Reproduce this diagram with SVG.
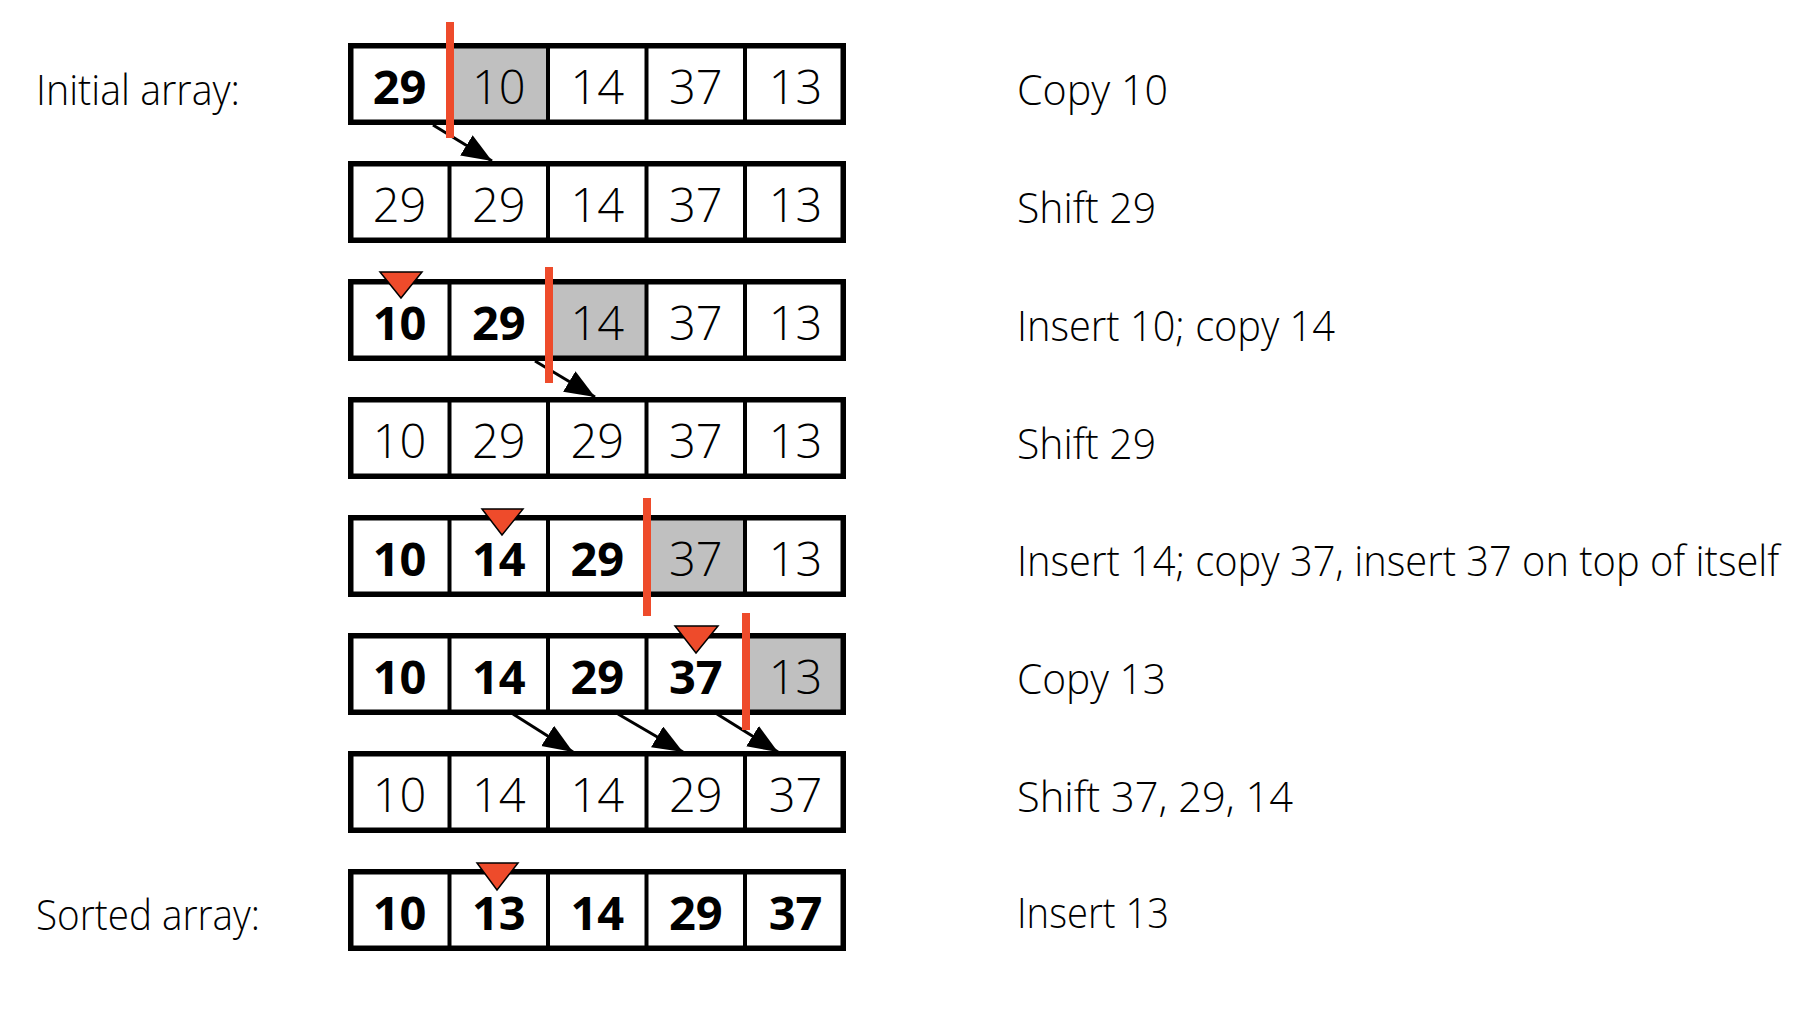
<svg xmlns="http://www.w3.org/2000/svg" width="1814" height="1022" viewBox="0 0 1814 1022">
<style>
  .box{fill:none;stroke:#000;stroke-width:5.5}
  .div{stroke:#000;stroke-width:4}
  .gray{fill:#c0c0c0}
  .num{font-family:"Open Sans","Noto Sans","Liberation Sans",sans-serif;font-size:47px;font-weight:300;text-anchor:middle;fill:#000}
  .b{font-weight:bold}
  .lbl{font-family:"Open Sans","Noto Sans","Liberation Sans",sans-serif;font-size:43px;font-weight:300;fill:#000}
  .bar{fill:#ee4b2b}
  .tri{fill:#ee4b2b;stroke:#000;stroke-width:1.5;stroke-linejoin:miter}
  .arr{stroke:#000;stroke-width:3;fill:none}
</style>
<defs>
  <marker id="ah" markerUnits="userSpaceOnUse" markerWidth="32" markerHeight="26" refX="30" refY="12" orient="auto">
    <path d="M0,0 L30,12 L0,24 z" fill="#000"/>
  </marker>
  <g id="row">
    <rect x="350.75" y="2.75" width="492.5" height="76.5" class="box"/>
    <line x1="449.5" y1="2.75" x2="449.5" y2="79.25" class="div"/>
    <line x1="548" y1="2.75" x2="548" y2="79.25" class="div"/>
    <line x1="646.5" y1="2.75" x2="646.5" y2="79.25" class="div"/>
    <line x1="745" y1="2.75" x2="745" y2="79.25" class="div"/>
  </g>
</defs>
<rect width="1814" height="1022" fill="#fff"/>

<g id="labels">
  <text class="lbl" x="36" y="105" textLength="204" lengthAdjust="spacingAndGlyphs">Initial array:</text>
  <text class="lbl" x="36" y="930" textLength="224" lengthAdjust="spacingAndGlyphs">Sorted array:</text>
  <text class="lbl" x="1017" y="105" textLength="151" lengthAdjust="spacingAndGlyphs">Copy 10</text>
  <text class="lbl" x="1017" y="223" textLength="139" lengthAdjust="spacingAndGlyphs">Shift 29</text>
  <text class="lbl" x="1017" y="341" textLength="318" lengthAdjust="spacingAndGlyphs">Insert 10; copy 14</text>
  <text class="lbl" x="1017" y="459" textLength="139" lengthAdjust="spacingAndGlyphs">Shift 29</text>
  <text class="lbl" transform="translate(1017,576) scale(0.9,1)" x="0" y="0" textLength="847" lengthAdjust="spacingAndGlyphs">Insert 14; copy 37, insert 37 on top of itself</text>
  <text class="lbl" x="1017" y="694" textLength="149" lengthAdjust="spacingAndGlyphs">Copy 13</text>
  <text class="lbl" x="1017" y="812" textLength="276" lengthAdjust="spacingAndGlyphs">Shift 37, 29, 14</text>
  <text class="lbl" x="1017" y="928" textLength="152" lengthAdjust="spacingAndGlyphs">Insert 13</text>
</g>

<g id="connectors">
  <line class="arr" x1="433" y1="125" x2="492" y2="161" marker-end="url(#ah)"/>
  <line class="arr" x1="535" y1="361" x2="595" y2="397" marker-end="url(#ah)"/>
  <line class="arr" x1="513" y1="714" x2="573" y2="752" marker-end="url(#ah)"/>
  <line class="arr" x1="618" y1="714" x2="683" y2="752" marker-end="url(#ah)"/>
  <line class="arr" x1="717" y1="714" x2="778" y2="752" marker-end="url(#ah)"/>
</g>

<g id="row1" transform="translate(0,43)">
  <rect class="gray" x="449.5" y="2.75" width="98.5" height="76.5"/>
  <use href="#row"/>
  <text class="num b" x="399.5" y="60.5">29</text>
  <text class="num" x="498.8" y="60.5">10</text>
  <text class="num" x="597.3" y="60.5">14</text>
  <text class="num" x="695.8" y="60.5">37</text>
  <text class="num" x="795.5" y="60.5">13</text>
</g>
<g id="row2" transform="translate(0,161)">
  <use href="#row"/>
  <text class="num" x="399.5" y="60.5">29</text>
  <text class="num" x="498.8" y="60.5">29</text>
  <text class="num" x="597.3" y="60.5">14</text>
  <text class="num" x="695.8" y="60.5">37</text>
  <text class="num" x="795.5" y="60.5">13</text>
</g>
<g id="row3" transform="translate(0,279)">
  <rect class="gray" x="548" y="2.75" width="98.5" height="76.5"/>
  <use href="#row"/>
  <text class="num b" x="399.5" y="60.5">10</text>
  <text class="num b" x="498.8" y="60.5">29</text>
  <text class="num" x="597.3" y="60.5">14</text>
  <text class="num" x="695.8" y="60.5">37</text>
  <text class="num" x="795.5" y="60.5">13</text>
</g>
<g id="row4" transform="translate(0,397)">
  <use href="#row"/>
  <text class="num" x="399.5" y="60.5">10</text>
  <text class="num" x="498.8" y="60.5">29</text>
  <text class="num" x="597.3" y="60.5">29</text>
  <text class="num" x="695.8" y="60.5">37</text>
  <text class="num" x="795.5" y="60.5">13</text>
</g>
<g id="row5" transform="translate(0,515)">
  <rect class="gray" x="646.5" y="2.75" width="98.5" height="76.5"/>
  <use href="#row"/>
  <text class="num b" x="399.5" y="60.5">10</text>
  <text class="num b" x="498.8" y="60.5">14</text>
  <text class="num b" x="597.3" y="60.5">29</text>
  <text class="num" x="695.8" y="60.5">37</text>
  <text class="num" x="795.5" y="60.5">13</text>
</g>
<g id="row6" transform="translate(0,633)">
  <rect class="gray" x="745" y="2.75" width="98" height="76.5"/>
  <use href="#row"/>
  <text class="num b" x="399.5" y="60.5">10</text>
  <text class="num b" x="498.8" y="60.5">14</text>
  <text class="num b" x="597.3" y="60.5">29</text>
  <text class="num b" x="695.8" y="60.5">37</text>
  <text class="num" x="795.5" y="60.5">13</text>
</g>
<g id="row7" transform="translate(0,751)">
  <use href="#row"/>
  <text class="num" x="399.5" y="60.5">10</text>
  <text class="num" x="498.8" y="60.5">14</text>
  <text class="num" x="597.3" y="60.5">14</text>
  <text class="num" x="695.8" y="60.5">29</text>
  <text class="num" x="795.5" y="60.5">37</text>
</g>
<g id="row8" transform="translate(0,869)">
  <use href="#row"/>
  <text class="num b" x="399.5" y="60.5">10</text>
  <text class="num b" x="498.8" y="60.5">13</text>
  <text class="num b" x="597.3" y="60.5">14</text>
  <text class="num b" x="695.8" y="60.5">29</text>
  <text class="num b" x="795.5" y="60.5">37</text>
</g>

<g id="markers">
  <rect class="bar" x="446" y="22" width="8" height="116"/>
  <rect class="bar" x="545" y="267" width="8" height="116"/>
  <rect class="bar" x="643" y="498" width="8" height="118"/>
  <rect class="bar" x="742" y="613" width="8" height="117"/>
  <polygon class="tri" points="380,272 422,272 401,298"/>
  <polygon class="tri" points="482,509 523,509 502,535"/>
  <polygon class="tri" points="675,626 718,626 696,653"/>
  <polygon class="tri" points="477,863 518,863 497,890"/>
</g>
</svg>
